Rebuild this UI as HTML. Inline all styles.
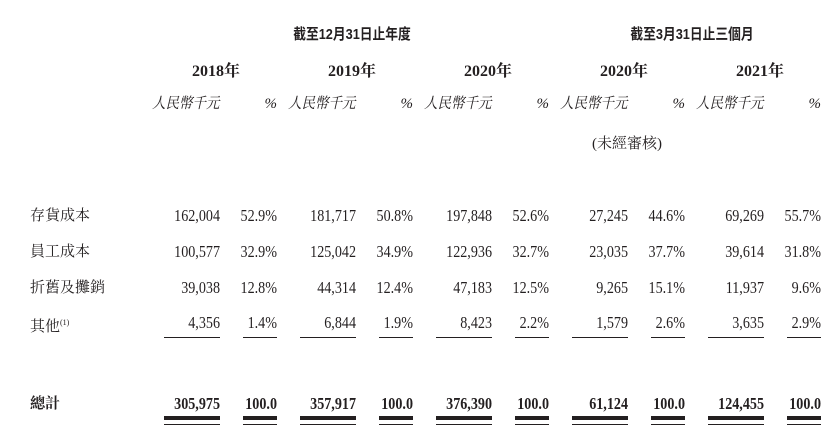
<!DOCTYPE html>
<html><head><meta charset="utf-8"><style>
body{margin:0;width:832px;height:438px;background:#fff;position:relative;overflow:hidden;font-family:"Liberation Serif","Noto Serif CJK SC",serif;color:#231f20}
.t{position:absolute;white-space:nowrap;line-height:18px;font-size:16px}
.r{text-align:right;font-size:17px;transform:scaleX(0.83);transform-origin:right center}
.b{font-weight:bold}
.h{font-family:"Liberation Sans","Noto Sans CJK TC",sans-serif;font-weight:bold;font-size:15px;transform:scaleX(0.85);transform-origin:center}
.i{font-style:italic;font-size:15px;transform:scaleX(0.9);transform-origin:left center}
.s{font-family:"Liberation Serif","Noto Serif CJK TC",serif;font-size:15px}
.l{position:absolute;background:#231f20}
</style></head><body>
<div class="t h" style="left:262px;top:26px;width:180px;text-align:center">截至12月31日止年度</div>
<div class="t h" style="left:602px;top:26px;width:180px;text-align:center">截至3月31日止三個月</div>
<div id="c"></div>
<script>
var nr=[220,356,492,628,764],pr=[277,413,549,685,821];
var rows=[["存貨成本",216,["162,004","52.9%","181,717","50.8%","197,848","52.6%","27,245","44.6%","69,269","55.7%"]],
["員工成本",252,["100,577","32.9%","125,042","34.9%","122,936","32.7%","23,035","37.7%","39,614","31.8%"]],
["折舊及攤銷",288,["39,038","12.8%","44,314","12.4%","47,183","12.5%","9,265","15.1%","11,937","9.6%"]],
["其他<sup style='font-size:8px'>(1)</sup>",323,["4,356","1.4%","6,844","1.9%","8,423","2.2%","1,579","2.6%","3,635","2.9%"]],
["總計",404,["305,975","100.0","357,917","100.0","376,390","100.0","61,124","100.0","124,455","100.0"]]];
var h="",years=["2018年","2019年","2020年","2020年","2021年"];
for(var k=0;k<5;k++){
 h+='<div class="t b" style="left:'+(nr[k]-120)+'px;top:63px;width:140px;text-align:right;font-size:16px">'+years[k]+'</div>';
 h+='<div class="t i" style="left:'+(nr[k]-68)+'px;top:95px">人民幣千元</div>';
 h+='<div class="t" style="left:'+(pr[k]-110)+'px;top:95px;width:110px;text-align:right;font-style:italic;font-size:15px">%</div>';
 h+='<div class="l" style="left:'+(nr[k]-56)+'px;top:337px;width:56px;height:1px"></div>';
 h+='<div class="l" style="left:'+(pr[k]-34)+'px;top:337px;width:34px;height:1px"></div>';
 h+='<div class="l" style="left:'+(nr[k]-56)+'px;top:416px;width:56px;height:4px"></div>';
 h+='<div class="l" style="left:'+(pr[k]-34)+'px;top:416px;width:34px;height:4px"></div>';
 h+='<div class="l" style="left:'+(nr[k]-56)+'px;top:424px;width:56px;height:1px"></div>';
 h+='<div class="l" style="left:'+(pr[k]-34)+'px;top:424px;width:34px;height:1px"></div>';
}
h+='<div class="t s" style="left:592px;top:135px">(未經審核)</div>';
rows.forEach(function(r,ri){
 var b=ri==4?" b":"";
 h+='<div class="t s'+b+'" style="left:30px;top:'+(r[1]-9)+'px">'+r[0]+'</div>';
 for(var k=0;k<5;k++){
  h+='<div class="t r'+b+'" style="left:'+(nr[k]-100)+'px;width:100px;top:'+(r[1]-9)+'px">'+r[2][2*k]+'</div>';
  h+='<div class="t r'+b+'" style="left:'+(pr[k]-60)+'px;width:60px;top:'+(r[1]-9)+'px">'+r[2][2*k+1]+'</div>';
 }
});
document.getElementById("c").innerHTML=h;
</script>
</body></html>
